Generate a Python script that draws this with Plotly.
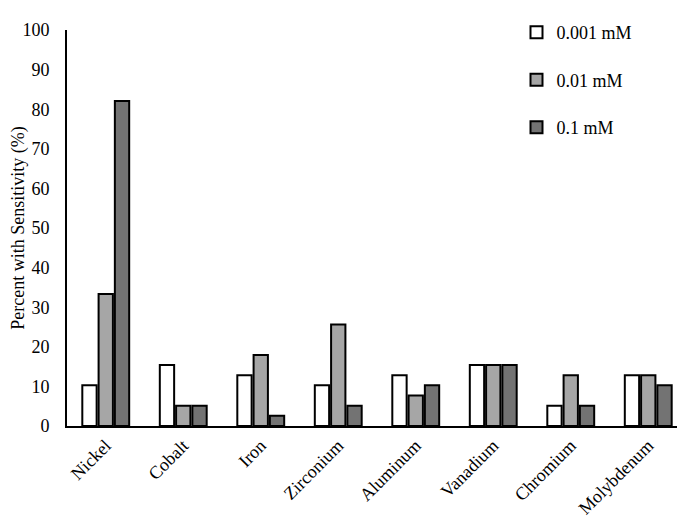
import plotly.graph_objects as go

categories = ["Nickel", "Cobalt", "Iron", "Zirconium", "Aluminum", "Vanadium", "Chromium", "Molybdenum"]
series_names = ["0.001 mM", "0.01 mM", "0.1 mM"]
vals_0001 = [10.26, 15.38, 12.82, 10.26, 12.82, 15.38, 5.13, 12.82]
vals_001 = [33.33, 5.13, 17.95, 25.64, 7.69, 15.38, 12.82, 12.82]
vals_01 = [82.05, 5.13, 2.56, 5.13, 10.26, 15.38, 5.13, 10.26]
y_ticks = [0, 10, 20, 30, 40, 50, 60, 70, 80, 90, 100]

colors = ["#ffffff", "#a6a6a6", "#737373"]
series = [vals_0001, vals_001, vals_01]

fig = go.Figure()
for i, (name, vals) in enumerate(zip(series_names, series)):
    fig.add_trace(go.Bar(
        x=categories, y=vals, name=name, legendgroup=f"g{i}",
        marker=dict(color=colors[i], line=dict(color="#000000", width=2)),
    ))

font = "Liberation Serif, Times New Roman, serif"
fig.update_layout(
    width=685, height=524,
    margin=dict(l=59, r=6, t=10, b=106),
    paper_bgcolor="white", plot_bgcolor="white",
    font=dict(family=font, size=18, color="#000000"),
    barmode="group", bargap=0.37, bargroupgap=0.12,
    showlegend=True,
    legend=dict(x=0.725, y=1.04, xanchor="left", yanchor="top",
                font=dict(size=18), tracegroupgap=21,
                bgcolor="rgba(0,0,0,0)"),
    xaxis=dict(showline=True, linecolor="#000000", linewidth=2, automargin=False,
               ticks="", tickangle=-45, tickfont=dict(size=18)),
    yaxis=dict(range=[0, 100], tickvals=y_ticks, showline=True, automargin=False,
               linecolor="#000000", linewidth=2, ticks="", showgrid=False,
               zeroline=False, tickfont=dict(size=18), ticklabelstandoff=12,
               ticklabeloverflow="allow",
               title=dict(text="Percent with Sensitivity (%)", font=dict(size=18), standoff=3)),
)
fig.write_html("out.html")
